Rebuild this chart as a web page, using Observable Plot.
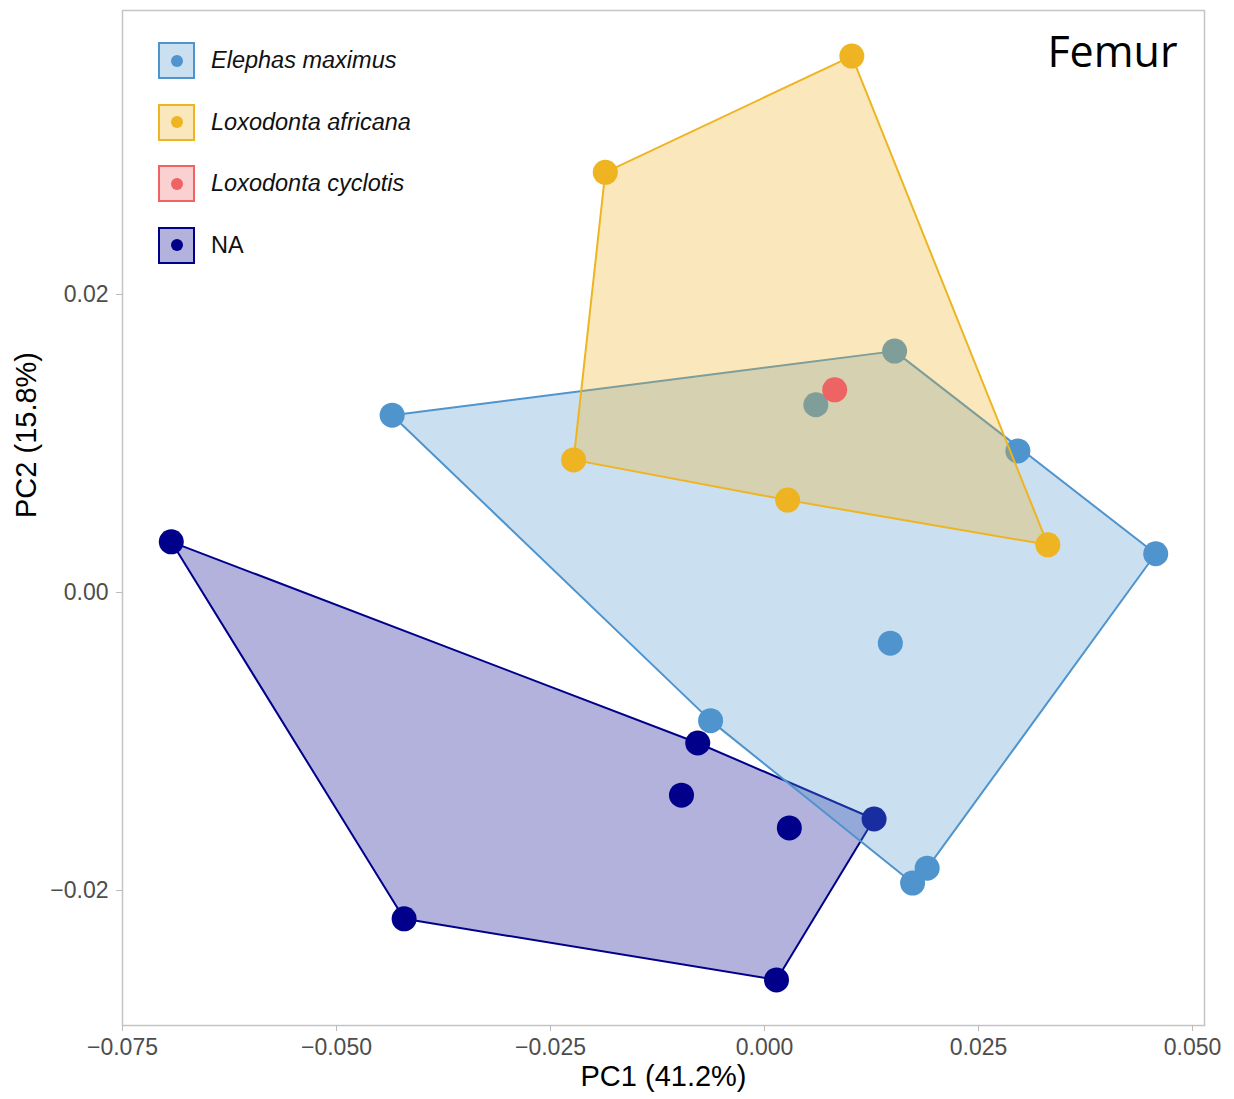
<!DOCTYPE html>
<html>
<head>
<meta charset="utf-8">
<script src="https://cdn.jsdelivr.net/npm/d3@7"></script>
<script src="https://cdn.jsdelivr.net/npm/@observablehq/plot@0.6"></script>
<style>
  html, body { margin: 0; padding: 0; background: #fff; }
  #wrap { position: relative; width: 1234px; height: 1099px; font-family: "Liberation Sans", Arial, sans-serif; }
  #legend { position: absolute; left: 158px; top: 42px; }
  .row { display: flex; align-items: center; height: 37px; margin-bottom: 24.5px; }
  .key { position: relative; width: 33px; height: 33px; border: 2px solid; flex: none; }
  .key .pt { position: absolute; width: 12px; height: 12px; border-radius: 50%; left: 10.5px; top: 10.5px; }
  .lab { margin-left: 16px; font-size: 23.5px; color: #111; white-space: nowrap; }
</style>
</head>
<body>
<div id="wrap"><div id="chart"></div><div id="legend"></div></div>
<script>
// Categories and colours
const categories = ["Elephas maximus", "Loxodonta africana", "Loxodonta cyclotis", "NA"];
const colors = ["#4F94CD", "#EEB422", "#EE6363", "#00008B"];
const italicCat = [true, true, true, false];
// drawing order of groups (each: points then hull)
const drawOrder = ["NA", "Elephas maximus", "Loxodonta africana", "Loxodonta cyclotis"];

// Point data
const species = [
  "Elephas maximus","Elephas maximus","Elephas maximus","Elephas maximus","Elephas maximus",
  "Elephas maximus","Elephas maximus","Elephas maximus","Elephas maximus",
  "Loxodonta africana","Loxodonta africana","Loxodonta africana","Loxodonta africana","Loxodonta africana",
  "Loxodonta cyclotis",
  "NA","NA","NA","NA","NA","NA","NA"
];
const pc1 = [
  -0.0435, 0.0152, 0.0060, 0.0296, 0.0457, 0.0147, -0.0063, 0.0190, 0.0173,
  0.0102, -0.0186, -0.0223, 0.0027, 0.0331,
  0.0082,
  -0.0693, -0.0421, 0.0014, 0.0128, -0.0078, -0.0097, 0.0029
];
const pc2 = [
  0.0119, 0.0162, 0.0126, 0.0095, 0.0026, -0.0034, -0.0086, -0.0185, -0.0195,
  0.0360, 0.0282, 0.0089, 0.0062, 0.0032,
  0.0136,
  0.0034, -0.0219, -0.0260, -0.0152, -0.0101, -0.0136, -0.0158
];

// Axis ticks
const xTicks = [-0.075, -0.050, -0.025, 0.000, 0.025, 0.050];
const yTicks = [-0.02, 0.00, 0.02];
const xLabel = "PC1 (41.2%)";
const yLabel = "PC2 (15.8%)";
const panelTitle = "Femur";

const data = species.map((s, i) => ({species: s, pc1: pc1[i], pc2: pc2[i]}));

const fmt = v => (v < 0 ? "\u2212" : "") + Math.abs(v).toFixed(3);
const fmtY = v => (v < 0 ? "\u2212" : "") + Math.abs(v).toFixed(2);

const groupMarks = drawOrder.flatMap(g => {
  const sub = data.filter(d => d.species === g);
  const m = [Plot.dot(sub, {x: "pc1", y: "pc2", r: 12.5, fill: "species", stroke: "none"})];
  if (sub.length >= 3) {
    m.push(Plot.hull(sub, {x: "pc1", y: "pc2", fill: "species", stroke: "species", fillOpacity: 0.3, strokeWidth: 2}));
  }
  return m;
});

const chart = Plot.plot({
  width: 1234,
  height: 1099,
  marginLeft: 122,
  marginRight: 30,
  marginTop: 10,
  marginBottom: 74,
  style: {fontFamily: "'Liberation Sans', Arial, sans-serif", background: "#fff"},
  x: {domain: [-0.075, 0.0514], ticks: xTicks, tickFormat: fmt, label: null},
  y: {domain: [-0.02906, 0.03906], ticks: yTicks, tickFormat: fmtY, label: null},
  color: {domain: categories, range: colors},
  marks: [
    Plot.frame({stroke: "#c4c4c4", strokeWidth: 1.5}),
    ...groupMarks,
    Plot.axisX({ticks: xTicks, tickFormat: fmt, tickSize: 6, tickPadding: 7, fontSize: 23, color: "#4d4d4d", stroke: "#bbb", label: null}),
    Plot.axisY({ticks: yTicks, tickFormat: fmtY, tickSize: 6, tickPadding: 8, fontSize: 23, color: "#4d4d4d", stroke: "#bbb", label: null}),
    Plot.text([xLabel], {frameAnchor: "bottom", dy: 60, fontSize: 29, fill: "#000", text: d => d}),
    Plot.text([yLabel], {frameAnchor: "left", dx: -96, rotate: -90, fontSize: 29, fill: "#000", text: d => d}),
    Plot.text([panelTitle], {frameAnchor: "top-right", dx: -27, dy: 26, fontSize: 43, fill: "#000", fontFamily: "'Open Sans', sans-serif", textAnchor: "end", text: d => d})
  ]
});
document.getElementById("chart").appendChild(chart);

// Legend
const legend = document.getElementById("legend");
categories.forEach((c, i) => {
  const col = d3.color(colors[i]);
  const bg = d3.color(colors[i]); bg.opacity = 0.3;
  const row = document.createElement("div");
  row.className = "row";
  row.innerHTML = `<div class="key" style="border-color:${col};background:${bg}"><div class="pt" style="background:${col}"></div></div>` +
    `<div class="lab" style="font-style:${italicCat[i] ? "italic" : "normal"}">${c}</div>`;
  legend.appendChild(row);
});
</script>
</body>
</html>
